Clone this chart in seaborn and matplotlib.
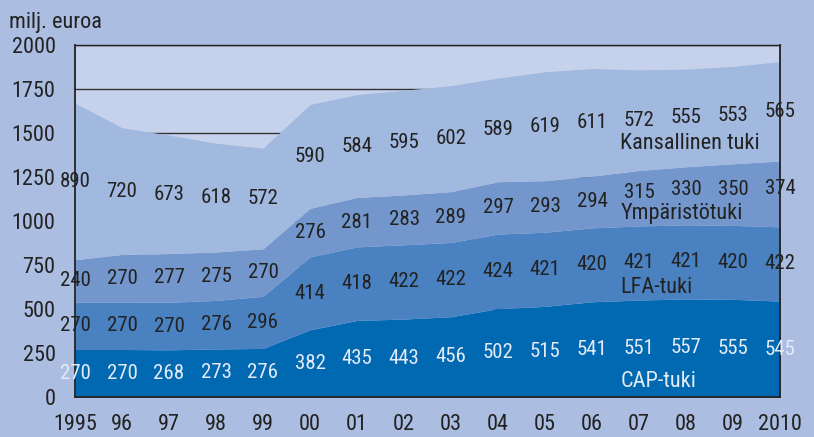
import matplotlib
matplotlib.use("Agg")
import matplotlib.pyplot as plt
import matplotlib.font_manager as fm
import numpy as np
import seaborn as sns

years = list(range(1995, 2011))
year_labels = ["1995", "96", "97", "98", "99", "00", "01", "02", "03",
               "04", "05", "06", "07", "08", "09", "2010"]

cap_tuki = [270, 270, 268, 273, 276, 382, 435, 443, 456, 502, 515, 541, 551, 557, 555, 545]
lfa_tuki = [270, 270, 270, 276, 296, 414, 418, 422, 422, 424, 421, 420, 421, 421, 420, 422]
ymparisto_tuki = [240, 270, 277, 275, 270, 276, 281, 283, 289, 297, 293, 294, 315, 330, 350, 374]
kansallinen_tuki = [890, 720, 673, 618, 572, 590, 584, 595, 602, 589, 619, 611, 572, 555, 553, 565]

series_names = ["CAP-tuki", "LFA-tuki", "Ympäristötuki", "Kansallinen tuki"]
y_ticks = [0, 250, 500, 750, 1000, 1250, 1500, 1750, 2000]

sns.set_style("white")

# pick a narrow sans family if one is installed
available = {f.name for f in fm.fontManager.ttflist}
family = "Liberation Sans"
for cand in ["Roboto Condensed", "Arial Narrow", "Liberation Sans Narrow",
             "PT Sans Narrow", "Archivo Narrow", "Fira Sans Condensed",
             "IBM Plex Sans Condensed", "Open Sans Condensed"]:
    if cand in available:
        family = cand
        break
plt.rcParams["font.family"] = [family, "DejaVu Sans"]

bg = "#abbde0"
plot_bg = "#c6d2ec"
colors = ["#0069b1", "#4a81c1", "#7397cc", "#a1b8df"]
text_dark = "#222222"
text_light = "#e4ebf6"

fig = plt.figure(figsize=(8.14, 4.37), dpi=100, facecolor=bg)
ax = fig.add_axes([75 / 814, 1 - 397 / 437, (780 - 75) / 814, (397 - 45) / 437])
ax.set_facecolor(plot_bg)

data = [cap_tuki, lfa_tuki, ymparisto_tuki, kansallinen_tuki]
ax.stackplot(years, *data, colors=colors, linewidth=0, zorder=2)

# horizontal grid behind the areas
for t in y_ticks[1:]:
    ax.axhline(t, color="#333333", linewidth=1.0, zorder=1)

ax.set_xlim(1995, 2010)
ax.set_ylim(0, 2000)
ax.set_xticks(years)
ax.set_xticklabels(year_labels)
ax.set_yticks(y_ticks)
ax.tick_params(axis="both", direction="out", length=6, width=1.2, color="#333333",
               labelsize=16, labelcolor=text_dark)
ax.tick_params(axis="x", pad=6)
ax.tick_params(axis="y", pad=8)
for s in ax.spines.values():
    s.set_color("#222222")
    s.set_linewidth(1.3)
    s.set_visible(True)
ax.spines["top"].set_linewidth(1.0)

# value labels in the middle of each band; the last environment labels
# sit a little higher to leave room for the series name below them
nudge = {(2, 2007): 30, (2, 2008): 35, (2, 2009): 30, (2, 2010): 28}
cum = np.zeros(len(years))
for i, vals in enumerate(data):
    vals = np.array(vals, dtype=float)
    mids = cum + vals / 2
    col = text_light if i == 0 else text_dark
    for x, m, v in zip(years, mids, vals):
        ax.text(x, m + nudge.get((i, x), 0), f"{int(v)}", ha="center", va="center",
                fontsize=15, color=col, zorder=5, clip_on=False)
    cum += vals

# series names (baseline positions in data units)
name_pos = [(2006.6, 57, text_light), (2006.6, 591, text_dark),
            (2006.6, 1011, text_dark), (2006.6, 1409, text_dark)]
for name, (x, y, c) in zip(series_names, name_pos):
    ax.text(x, y, name, ha="left", va="baseline", fontsize=16, color=c, zorder=5)

fig.text(9 / 814, 1 - 28 / 437, "milj. euroa", ha="left", va="baseline",
         fontsize=16, color=text_dark)

fig.savefig("out.png", dpi=100, facecolor=bg)
